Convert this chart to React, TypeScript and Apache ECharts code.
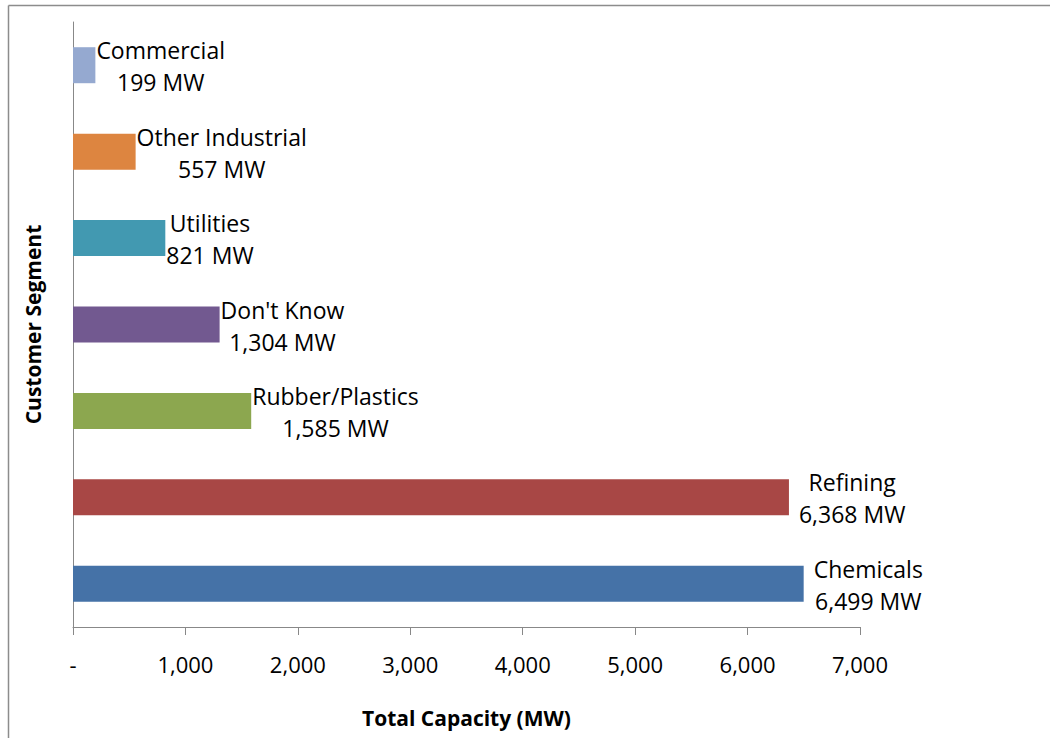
import React, { useEffect, useRef } from "react";
import * as echarts from "echarts";

const categories = [
  "Commercial",
  "Other Industrial",
  "Utilities",
  "Don't Know",
  "Rubber/Plastics",
  "Refining",
  "Chemicals",
];
const values = [199, 557, 821, 1304, 1585, 6368, 6499];
const colors = ["#95A9D0", "#DD8540", "#4299B1", "#725990", "#8CA74F", "#A84745", "#4572A7"];
const xTicks = { min: 0, max: 7000, interval: 1000 };

const FONT = "'Open Sans', 'Noto Sans', sans-serif";
const LABEL_SIZE = 23;

function measure(text: string, size: number): number {
  const c = document.createElement("canvas").getContext("2d");
  if (!c) return text.length * size * 0.5;
  c.font = `${size}px 'Open Sans'`;
  return c.measureText(text).width;
}

export default function App() {
  const ref = useRef<HTMLDivElement>(null);
  useEffect(() => {
    document.body.style.margin = "0";
    if (!ref.current) return;
    const chart = echarts.init(ref.current, null, { renderer: "svg" });
    const fmt = (v: number) => v.toLocaleString("en-US");
    const data = values.map((v, i) => {
      const w = Math.max(measure(categories[i], LABEL_SIZE), measure(`${fmt(v)} MW`, LABEL_SIZE));
      const extra = i >= 5 ? 10 : 1;
      return {
        value: v,
        itemStyle: { color: colors[i] },
        label: { offset: [w / 2 + extra, 1] },
      };
    });
    const option = {
      animation: false,
      backgroundColor: "#fff",
      textStyle: { fontFamily: FONT },
      grid: { left: 73, right: 190, top: 22, bottom: 111, containLabel: false },
      graphic: [
        { type: "line", shape: { x1: 8.5, y1: 5.5, x2: 1050, y2: 5.5 }, style: { stroke: "#8c8c8c", lineWidth: 1.5 } },
        { type: "line", shape: { x1: 8.5, y1: 5.5, x2: 8.5, y2: 738 }, style: { stroke: "#8c8c8c", lineWidth: 1.5 } },
      ],
      xAxis: {
        type: "value",
        min: xTicks.min,
        max: xTicks.max,
        interval: xTicks.interval,
        name: "Total Capacity (MW)",
        nameLocation: "middle",
        nameGap: 80,
        nameTextStyle: { fontFamily: FONT, fontSize: 21, fontWeight: "bold", color: "#000" },
        axisLine: { show: true, lineStyle: { color: "#888", width: 1 } },
        axisTick: { show: true, length: 8, lineStyle: { color: "#888" } },
        splitLine: { show: false },
        axisLabel: {
          margin: 26,
          fontSize: 22,
          color: "#000",
          fontFamily: FONT,
          formatter: (v: number) => (v === 0 ? "-" : fmt(v)),
        },
      },
      yAxis: {
        type: "category",
        data: categories,
        inverse: true,
        name: "Customer Segment",
        nameLocation: "middle",
        nameGap: 30,
        nameRotate: 90,
        nameTextStyle: { fontFamily: FONT, fontSize: 21, fontWeight: "bold", color: "#000" },
        axisLine: { show: true, lineStyle: { color: "#888", width: 1 } },
        axisTick: { show: false },
        axisLabel: { show: false },
      },
      series: [
        {
          type: "bar",
          barWidth: 36,
          data,
          label: {
            show: true,
            position: "right",
            distance: 0,
            align: "center",
            fontFamily: FONT,
            fontSize: LABEL_SIZE,
            lineHeight: 32,
            color: "#000",
            formatter: (p: any) => `${p.name}\n${fmt(p.value as number)} MW`,
          },
        },
      ],
    };
    chart.setOption(option);
    return () => chart.dispose();
  }, []);
  return <div ref={ref} style={{ width: 1050, height: 738 }} />;
}
